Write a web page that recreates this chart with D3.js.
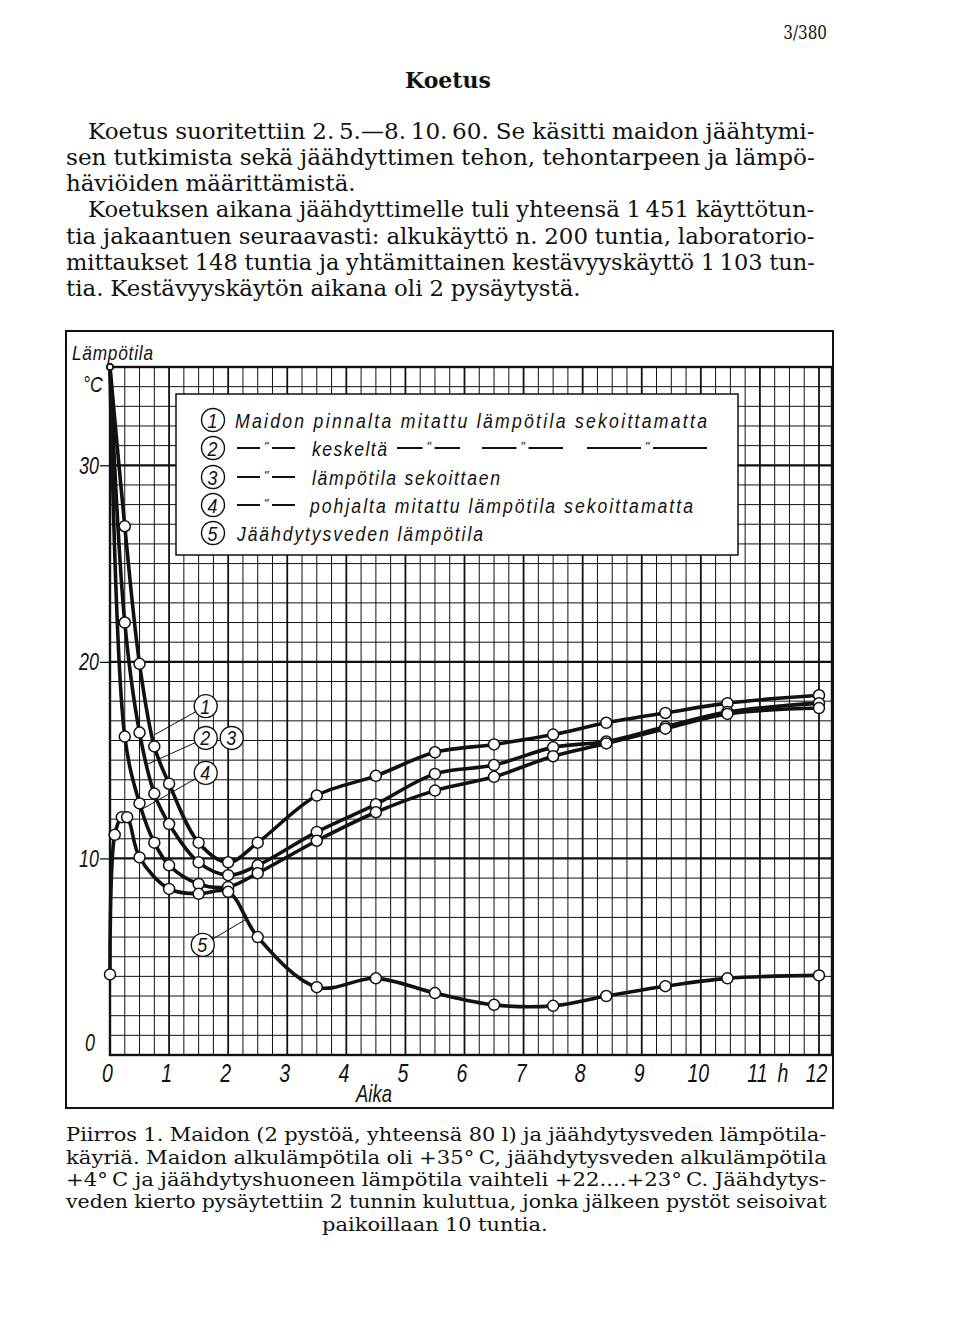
<!DOCTYPE html>
<html>
<head>
<meta charset="utf-8">
<script src="https://cdn.jsdelivr.net/npm/d3@7"></script>
<style>
body{margin:0;background:#fff}
</style>
</head>
<body>
<svg id="page" width="960" height="1343"></svg>
<script>

// hours of the milk readings and the three drawn milk curves (2 and 3 coincide)
var hoursMilk = [0, 0.25, 0.5, 0.75, 1, 1.5, 2, 2.5, 3.5, 4.5, 5.5, 6.5, 7.5, 8.4, 9.4, 10.45, 12];
var curve1  = [35, 26.9, 19.9, 15.7, 13.8, 10.8, 9.8, 10.8, 13.2, 14.2, 15.4, 15.8, 16.3, 16.9, 17.4, 17.9, 18.3];
var curve23 = [35, 22.0, 16.4, 13.3, 11.75, 9.8, 9.15, 9.65, 11.35, 12.75, 14.3, 14.75, 15.65, 15.95, 16.7, 17.45, 17.9];
var curve4  = [35, 16.2, 12.8, 10.8, 9.65, 8.7, 8.55, 9.25, 10.9, 12.35, 13.45, 14.15, 15.2, 15.85, 16.6, 17.35, 17.65];

// cooling water
var hoursWater = [0, 0.08, 0.2, 0.29, 0.5, 1, 1.5, 2, 2.5, 3.5, 4.5, 5.5, 6.5, 7.5, 8.4, 9.4, 10.45, 12];
var curve5 = [4.1, 11.2, 12.1, 12.1, 10.05, 8.45, 8.2, 8.3, 6.0, 3.45, 3.9, 3.15, 2.55, 2.5, 3.0, 3.5, 3.9, 4.05];

var xTicks = [0,1,2,3,4,5,6,7,8,9,10,11,12];
var yTicks = [0,10,20,30];

var legendTexts = [
  "Maidon pinnalta mitattu lämpötila sekoittamatta",
  "keskeltä",
  "lämpötila sekoittaen",
  "pohjalta mitattu lämpötila sekoittamatta",
  "Jäähdytysveden lämpötila"
];

var bodyLines = [
  "Koetus suoritettiin 2.\u20095.—8.\u200910.\u200960. Se käsitti maidon jäähtymi-",
  "sen tutkimista sekä jäähdyttimen tehon, tehontarpeen ja lämpö-",
  "häviöiden määrittämistä.",
  "Koetuksen aikana jäähdyttimelle tuli yhteensä 1\u2009451 käyttötun-",
  "tia jakaantuen seuraavasti: alkukäyttö n. 200 tuntia, laboratorio-",
  "mittaukset 148 tuntia ja yhtämittainen kestävyyskäyttö 1\u2009103 tun-",
  "tia. Kestävyyskäytön aikana oli 2 pysäytystä."
];

var captionLines = [
  "Piirros 1. Maidon (2 pystöä, yhteensä 80 l) ja jäähdytysveden lämpötila-",
  "käyriä. Maidon alkulämpötila oli +35°\u2009C, jäähdytysveden alkulämpötila",
  "+4°\u2009C ja jäähdytyshuoneen lämpötila vaihteli +22....+23°\u2009C. Jäähdytys-",
  "veden kierto pysäytettiin 2 tunnin kuluttua, jonka jälkeen pystöt seisoivat",
  "paikoillaan 10 tuntia."
];

var svg = d3.select('#page');
var serif = "'DejaVu Serif', 'Liberation Serif', serif";
var sans = "'Liberation Sans', Arial, sans-serif";
var ink = '#111';

// ---------- page text ----------
var GAP = 0.3;
function naturalWidth(str, size) {
  var words = str.split(' ');
  var w = 0;
  words.forEach(function(s) {
    var t = svg.append('text').style('font-family', serif).style('font-size', size + 'px').text(s);
    w += t.node().getComputedTextLength();
    t.remove();
  });
  return w + (words.length - 1) * size * GAP;
}
// each line is squeezed horizontally so it fills its measure
function wordLine(str, x0, yb, size, sx) {
  var words = str.split(' ');
  var cx = x0;
  words.forEach(function(w) {
    var t = svg.append('text')
      .attr('transform', 'translate(' + cx + ',' + yb + ') scale(' + sx + ',1)')
      .style('font-family', serif).style('font-size', size + 'px').style('fill', ink)
      .text(w);
    cx += (t.node().getComputedTextLength() + size * GAP) * sx;
  });
}

svg.append('text').attr('transform', 'translate(827,39) scale(0.8,1)').attr('text-anchor', 'end')
  .style('font-family', serif).style('font-size', '19px').style('fill', ink).text('3/380');
svg.append('text').attr('x', 448).attr('y', 88).attr('text-anchor', 'middle')
  .style('font-family', serif).style('font-size', '22px').style('font-weight', 'bold').style('fill', ink).text('Koetus');

function paragraph(lines, base, size, starts, right, justified) {
  var fits = [];
  lines.forEach(function(s, i) {
    if (justified[i]) fits[i] = (right - starts[i]) / naturalWidth(s, size);
  });
  var avg = d3.mean(fits.filter(function(v) { return v; }));
  lines.forEach(function(s, i) {
    wordLine(s, starts[i], base[i], size, justified[i] ? fits[i] : avg);
  });
  return avg;
}

paragraph(bodyLines, [139, 165, 191, 217, 244, 270, 296], 22,
  [88, 66, 66, 88, 66, 66, 66], 815, [true, true, false, true, true, true, false]);

var capAvg = paragraph(captionLines.slice(0, 4), [1141, 1164, 1186, 1208], 19,
  [66, 66, 66, 66], 827, [true, true, true, true]);
var lastW = naturalWidth(captionLines[4], 19) * capAvg;
wordLine(captionLines[4], 435 - lastW / 2, 1231, 19, capAvg);

// ---------- chart ----------
var x = d3.scaleLinear().domain([0, 12]).range([110, 819]);
var y = d3.scaleLinear().domain([0, 35]).range([1055, 367]);
var xEnd = x(12.22);

// outer frame
svg.append('rect').attr('x', 66).attr('y', 331).attr('width', 833 - 66).attr('height', 1108 - 331)
  .attr('fill', 'none').attr('stroke', ink).attr('stroke-width', 2);

// graph paper
var grid = svg.append('g');
grid.selectAll('line.v').data(d3.range(1, 49).map(function(i) { return i / 4; }))
  .join('line').attr('class', 'v')
  .attr('x1', function(d) { return x(d); }).attr('x2', function(d) { return x(d); })
  .attr('y1', y(35)).attr('y2', y(0))
  .attr('stroke', ink).attr('stroke-width', function(d) { return d % 1 === 0 ? 1.8 : 1; });
grid.selectAll('line.h').data(d3.range(1, 35))
  .join('line').attr('class', 'h')
  .attr('x1', x(0)).attr('x2', xEnd)
  .attr('y1', function(d) { return y(d); }).attr('y2', function(d) { return y(d); })
  .attr('stroke', ink).attr('stroke-width', function(d) { return d % 10 === 0 ? 2.2 : 1; });

svg.append('rect').attr('x', x(0)).attr('y', y(35)).attr('width', xEnd - x(0)).attr('height', y(0) - y(35))
  .attr('fill', 'none').attr('stroke', ink).attr('stroke-width', 2.4);

// axes
function condense(sel, sx) {
  sel.each(function() {
    var t = d3.select(this);
    var tx = +t.attr('x') || 0, ty = +t.attr('y') || 0;
    t.attr('x', 0).attr('y', 0).attr('transform', 'translate(' + tx + ',' + ty + ') scale(' + sx + ',1)');
  });
}

var gx = svg.append('g').attr('transform', 'translate(0,' + y(0) + ')')
  .call(d3.axisBottom(x).tickValues(xTicks).tickSize(0).tickFormat(d3.format('d')));
gx.select('.domain').remove();
gx.selectAll('text').attr('x', -3).attr('y', 27).attr('dy', 0)
  .style('font-family', sans).style('font-style', 'italic').style('font-size', '26px').style('fill', ink);
condense(gx.selectAll('text'), 0.75);

var gy = svg.append('g').attr('transform', 'translate(' + x(0) + ',0)')
  .call(d3.axisLeft(y).tickValues(yTicks).tickSize(10).tickPadding(2));
gy.select('.domain').remove();
gy.selectAll('line').attr('stroke', ink).attr('stroke-width', 1.3);
gy.selectAll('.tick').filter(function(d) { return d === 0; }).select('line').remove();
gy.selectAll('text').attr('x', function(d) { return d === 0 ? -15 : -11; }).attr('y', function(d) { return d === 0 ? -5 : 8; }).attr('dy', 0)
  .style('font-family', sans).style('font-style', 'italic').style('font-size', '23px').style('fill', ink);
condense(gy.selectAll('text'), 0.78);

function label(tx, ty, str, size, anchor, sx, len) {
  var t = svg.append('text').attr('transform', 'translate(' + tx + ',' + ty + ') scale(' + sx + ',1)')
    .attr('text-anchor', anchor)
    .style('font-family', sans).style('font-style', 'italic').style('font-size', size + 'px').style('fill', ink)
    .text(str);
  if (len) t.attr('textLength', len / sx).attr('lengthAdjust', 'spacing');
  return t;
}
label(72, 360, 'Lämpötila', 21, 'start', 0.82, 81);
label(83, 392, '°C', 22, 'start', 0.8);
label(374, 1102, 'Aika', 23, 'middle', 0.8);
label(783, 1082, 'h', 26, 'middle', 0.75);

// legend box
svg.append('rect').attr('x', 176).attr('y', 394).attr('width', 738 - 176).attr('height', 555 - 394)
  .attr('fill', '#fff').attr('stroke', ink).attr('stroke-width', 1.5);

var rowY = [420, 448, 477, 505, 533];
function circledNum(cx, cy, n) {
  svg.append('circle').attr('cx', cx).attr('cy', cy).attr('r', 11.5)
    .attr('fill', '#fff').attr('stroke', ink).attr('stroke-width', 1.4);
  svg.append('text').attr('transform', 'translate(' + (cx - 0.5) + ',' + (cy + 7.5) + ') scale(0.85,1)')
    .attr('text-anchor', 'middle')
    .style('font-family', sans).style('font-style', 'italic').style('font-size', '21px').style('fill', ink)
    .text(n);
}
function ditto(x0, x1, cy) {
  var m = (x0 + x1) / 2;
  svg.append('line').attr('x1', x0).attr('x2', m - 6).attr('y1', cy).attr('y2', cy).attr('stroke', ink).attr('stroke-width', 2);
  svg.append('line').attr('x1', m + 6).attr('x2', x1).attr('y1', cy).attr('y2', cy).attr('stroke', ink).attr('stroke-width', 2);
  svg.append('text').attr('x', m).attr('y', cy + 3).attr('text-anchor', 'middle')
    .style('font-family', sans).style('font-style', 'italic').style('font-size', '13px').style('fill', ink).text('"');
}
function legendText(x0, x1, cy, str) {
  var sx = 0.84;
  svg.append('text').attr('transform', 'translate(' + x0 + ',' + (cy + 7.5) + ') scale(' + sx + ',1)')
    .attr('textLength', (x1 - x0) / sx).attr('lengthAdjust', 'spacing')
    .style('font-family', sans).style('font-style', 'italic').style('font-size', '21px').style('fill', ink)
    .text(str);
}
rowY.forEach(function(cy, i) { circledNum(213, cy, i + 1); });
legendText(235, 707, rowY[0], legendTexts[0]);
ditto(237, 295, rowY[1]); legendText(312, 387, rowY[1], legendTexts[1]);
ditto(397, 460, rowY[1]); ditto(482, 563, rowY[1]); ditto(587, 707, rowY[1]);
ditto(237, 295, rowY[2]); legendText(312, 500, rowY[2], legendTexts[2]);
ditto(237, 295, rowY[3]); legendText(310, 693, rowY[3], legendTexts[3]);
legendText(237, 483, rowY[4], legendTexts[4]);

// curves
var series = [
  {h: hoursMilk, v: curve1},
  {h: hoursMilk, v: curve23},
  {h: hoursMilk, v: curve4},
  {h: hoursWater, v: curve5}
];
var line = d3.line()
  .x(function(d) { return x(d[0]); })
  .y(function(d) { return y(d[1]); })
  .curve(d3.curveCatmullRom.alpha(0.5));

series.forEach(function(s) {
  var pts = s.h.map(function(h, i) { return [h, s.v[i]]; });
  svg.append('path').datum(pts).attr('d', line)
    .attr('fill', 'none').attr('stroke', ink).attr('stroke-width', 3.6).attr('stroke-linejoin', 'round');
});
series.forEach(function(s, k) {
  var pts = s.h.map(function(h, i) { return [h, s.v[i]]; });
  svg.append('g').selectAll('circle').data(pts).join('circle')
    .attr('cx', function(d) { return x(d[0]); })
    .attr('cy', function(d) { return y(d[1]); })
    .attr('r', function(d) { return (d[0] === 0 && k < 3) ? 3 : 5.5; })
    .attr('fill', '#fff').attr('stroke', ink).attr('stroke-width', 1.5);
});

// curve labels with leader lines (hours, degrees)
var tags = [
  {n: 1, at: [1.62, 17.75], to: [0.76, 16.3]},
  {n: 2, at: [1.62, 16.13], to: [0.64, 14.8]},
  {n: 3, at: [2.06, 16.13], to: null},
  {n: 4, at: [1.62, 14.35], to: [0.54, 12.5]},
  {n: 5, at: [1.57, 5.6], to: [2.34, 6.97]}
];
tags.forEach(function(t) {
  var cx = x(t.at[0]), cy = y(t.at[1]);
  if (t.to) {
    var ex = x(t.to[0]), ey = y(t.to[1]);
    var a = Math.atan2(ey - cy, ex - cx);
    svg.append('line').attr('x1', cx + 11.5 * Math.cos(a)).attr('y1', cy + 11.5 * Math.sin(a))
      .attr('x2', ex).attr('y2', ey).attr('stroke', ink).attr('stroke-width', 1);
  }
  circledNum(cx, cy, t.n);
});

</script>
</body>
</html>
